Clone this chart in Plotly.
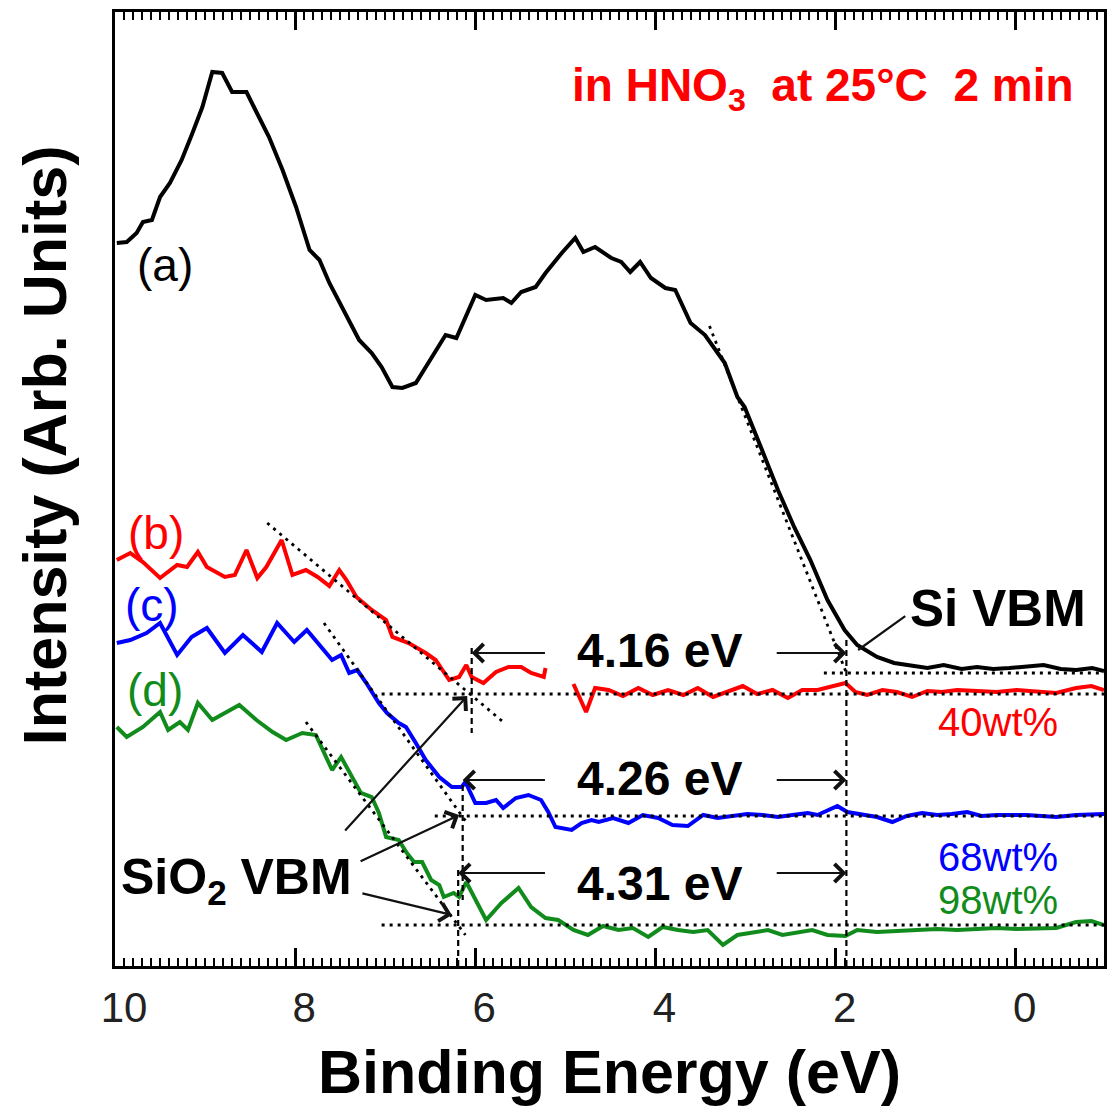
import plotly.graph_objects as go

# ---- data (binding energy in eV, intensity in arbitrary units) ----
a_x = [9.98, 9.87, 9.76, 9.69, 9.59, 9.50, 9.39, 9.26, 9.14, 9.03, 8.92, 8.81, 8.70, 8.54, 8.43,
       8.29, 8.14, 7.99, 7.84, 7.73, 7.62, 7.48, 7.29, 7.15, 7.04, 6.92, 6.81, 6.66, 6.52, 6.33,
       6.21, 6.11, 6.00, 5.88, 5.69, 5.60, 5.49, 5.33, 5.22, 5.04, 4.89, 4.80, 4.67, 4.49, 4.38,
       4.28, 4.17, 4.05, 3.89, 3.78, 3.61, 3.45, 3.23, 3.09, 3.01, 2.83, 2.64, 2.46, 2.28, 2.09,
       1.90, 1.76, 1.54, 1.35, 1.15, 0.98, 0.80, 0.60, 0.43, 0.25, 0.07, -0.12, -0.31, -0.50,
       -0.67, -0.85, -0.98]
a_y = [72.3, 72.4, 73.3, 74.4, 74.6, 76.9, 78.3, 80.6, 83.3, 85.9, 89.4, 89.3, 87.4, 87.4, 85.4,
       82.9, 79.6, 75.9, 71.6, 70.6, 68.3, 65.9, 62.6, 61.3, 59.9, 57.9, 57.8, 58.3, 60.3, 63.1,
       62.8, 64.9, 67.1, 66.6, 66.8, 66.3, 67.4, 67.9, 69.3, 71.3, 72.8, 71.4, 71.9, 70.8, 70.4,
       69.4, 70.4, 68.8, 67.8, 67.6, 64.3, 63.1, 60.3, 56.9, 55.9, 51.9, 47.6, 43.9, 40.6, 36.6,
       33.6, 32.1, 30.9, 30.3, 30.0, 29.8, 30.1, 29.7, 29.9, 29.7, 29.8, 30.0, 30.1, 29.7,
       29.6, 29.8, 29.5]

b_x = [9.98, 9.83, 9.69, 9.50, 9.31, 9.20, 9.08, 8.98, 8.78, 8.67, 8.54, 8.42, 8.32, 8.15, 8.03,
       7.88, 7.75, 7.62, 7.51, 7.43, 7.32, 7.15, 6.99, 6.92, 6.74, 6.55, 6.44, 6.29, 6.18, 6.10,
       6.04, 5.91, 5.77, 5.63, 5.49, 5.38, 5.24, 5.22, None,
       4.91, 4.77, 4.67, 4.52, 4.36, 4.19, 4.03, 3.86, 3.69, 3.53, 3.36, 3.20, 3.03, 2.87, 2.70,
       2.53, 2.37, 2.20, 2.04, 1.89, 1.78, 1.65, 1.48, 1.32, 1.15, 0.98, 0.82, 0.65, 0.43, 0.21,
       -0.01, -0.23, -0.45, -0.67, -0.84, -0.98]
b_y = [40.6, 41.3, 40.4, 38.8, 40.1, 39.9, 41.4, 39.9, 38.9, 39.1, 41.6, 38.8, 39.9, 42.6, 39.1,
       39.6, 38.9, 38.0, 39.6, 38.6, 36.9, 35.6, 34.6, 32.9, 32.3, 31.3, 30.6, 28.6, 28.9, 30.1,
       28.9, 28.3, 29.4, 29.9, 29.9, 29.3, 28.9, 29.8, None,
       28.2, 25.4, 27.8, 27.6, 27.0, 27.8, 27.1, 27.6, 27.1, 27.8, 26.9, 27.4, 28.0, 27.2, 27.6,
       26.8, 27.6, 27.6, 28.0, 28.3, 27.4, 27.1, 27.6, 27.4, 26.9, 27.5, 27.4, 27.6, 27.5, 27.4,
       27.6, 27.5, 27.3, 27.8, 28.0, 27.6]

c_x = [9.98, 9.83, 9.65, 9.50, 9.31, 9.15, 8.98, 8.78, 8.58, 8.37, 8.20, 8.01, 7.87, 7.73, 7.59,
       7.49, 7.40, 7.31, 7.21, 7.07, 6.98, 6.85, 6.77, 6.66, 6.55, 6.40, 6.26, 6.15, 6.11, 6.00,
       5.88, 5.77, 5.69, 5.55, 5.41, 5.27, 5.19, 5.11, 4.93, 4.82, 4.71, 4.63, 4.47, 4.30, 4.14,
       3.97, 3.81, 3.64, 3.47, 3.31, 3.14, 2.98, 2.81, 2.64, 2.48, 2.31, 2.20, 1.98, 1.87, 1.70,
       1.54, 1.37, 1.21, 1.04, 0.87, 0.71, 0.54, 0.38, 0.21, -0.12, -0.45, -0.67, -0.98]
c_y = [32.3, 32.6, 33.3, 34.3, 31.1, 32.9, 33.8, 31.3, 33.1, 31.4, 34.3, 32.4, 33.6, 32.1, 30.6,
       31.1, 29.3, 29.6, 28.3, 26.3, 25.3, 24.3, 23.9, 22.3, 20.6, 18.9, 17.9, 17.9, 18.4, 16.3,
       16.3, 16.6, 15.8, 16.8, 17.1, 16.6, 15.4, 13.9, 13.6, 14.3, 14.6, 14.4, 14.8, 14.3, 15.1,
       14.8, 14.1, 14.0, 15.1, 14.8, 15.0, 15.2, 15.1, 14.9, 15.1, 15.3, 15.1, 16.0, 15.4, 15.1,
       14.9, 14.4, 15.0, 15.3, 15.1, 15.2, 15.4, 15.0, 15.1, 15.1, 14.9, 15.1, 15.2]

d_x = [9.98, 9.87, 9.69, 9.50, 9.41, 9.28, 9.19, 9.08, 8.92, 8.62, 8.43, 8.25, 8.10, 7.92, 7.77,
       7.65, 7.59, 7.49, 7.37, 7.27, 7.15, 7.07, 6.99, 6.85, 6.76, 6.68, 6.59, 6.49, 6.40, 6.35,
       6.24, 6.18, 6.10, 5.98, 5.88, 5.71, 5.52, 5.38, 5.22, 5.08, 4.91, 4.75, 4.58, 4.41, 4.25,
       4.08, 3.92, 3.75, 3.58, 3.42, 3.25, 3.09, 2.92, 2.75, 2.59, 2.42, 2.26, 2.09, 1.89, 1.76,
       1.54, 1.32, 1.10, 0.87, 0.65, 0.43, 0.21, -0.01, -0.23, -0.45, -0.67, -0.84, -0.98]
d_y = [23.9, 22.9, 23.9, 25.4, 23.6, 24.4, 23.6, 26.3, 24.6, 26.1, 24.6, 23.4, 22.6, 23.3, 23.1,
       20.9, 19.6, 20.9, 18.9, 17.3, 16.9, 15.3, 12.9, 12.6, 11.3, 10.4, 10.4, 8.6, 8.1, 6.9,
       7.3, 6.9, 8.4, 6.3, 4.6, 6.3, 7.8, 5.9, 4.8, 4.6, 3.6, 3.1, 4.0, 3.6, 3.8,
       2.9, 3.9, 3.6, 3.4, 3.6, 2.1, 3.1, 3.4, 3.6, 3.1, 3.4, 3.6, 3.1, 3.0, 3.6,
       3.4, 3.5, 3.6, 3.7, 3.6, 3.7, 3.8, 3.7, 3.8, 3.8, 4.4, 4.5, 4.1]

# VBM values (eV) and gaps
si_vbm = 1.88
sio2_vbm = [6.04, 6.14, 6.19]
gap_labels = ["4.16 eV", "4.26 eV", "4.31 eV"]
gap_label_y = [31.6, 18.8, 8.3]
gap_arrow_y = [31.3, 18.6, 9.3]

# linear-extrapolation guide lines (dotted): (x0, y0, x1, y1)
tangent_lines = [
    (3.40, 64.0, 1.88, 29.3),
    (2.13, 29.3, -0.98, 29.3),
    (8.31, 44.3, 5.69, 24.4),
    (7.04, 27.2, -0.98, 27.2),
    (7.68, 34.3, 6.10, 14.4),
    (6.45, 15.0, -0.98, 15.0),
    (7.88, 24.4, 6.11, 3.1),
    (7.04, 4.1, -0.98, 4.1),
]
# dashed verticals: (x, y0, y1)
vbm_lines = [(6.04, 31.8, 23.3), (6.14, 18.1, 6.6), (6.19, 9.6, 0.0), (1.88, 32.6, 0.0)]

FONT = "Liberation Sans, Arial, sans-serif"
RED = "#ff0000"
BLUE = "#0000ff"
GREEN = "#118c1c"

fig = go.Figure()
for xs, ys, col in [(a_x, a_y, "black"), (b_x, b_y, RED), (c_x, c_y, BLUE), (d_x, d_y, GREEN)]:
    fig.add_trace(go.Scatter(x=xs, y=ys, mode="lines", line=dict(color=col, width=4),
                             showlegend=False, hoverinfo="skip", connectgaps=False))

for x0, y0, x1, y1 in tangent_lines:
    fig.add_trace(go.Scatter(x=[x0, x1], y=[y0, y1], mode="lines",
                             line=dict(color="black", width=2.8, dash="3px,5px"),
                             showlegend=False, hoverinfo="skip"))
for xv, y0, y1 in vbm_lines:
    fig.add_trace(go.Scatter(x=[xv, xv], y=[y0, y1], mode="lines",
                             line=dict(color="black", width=2.2, dash="6px,4px"),
                             showlegend=False, hoverinfo="skip"))

ann = []
arrow_common = dict(xref="x", yref="y", axref="x", ayref="y", text="", showarrow=True,
                    arrowhead=4, arrowsize=1.6, arrowwidth=2.2, arrowcolor="#111", standoff=0)
for vbm, ly, ay, lab in zip(sio2_vbm, gap_label_y, gap_arrow_y, gap_labels):
    ann.append(dict(x=vbm, y=ay, ax=5.21, ay=ay, **arrow_common))
    ann.append(dict(x=si_vbm, y=ay, ax=2.67, ay=ay, **arrow_common))
    ann.append(dict(x=3.96, y=ly, xref="x", yref="y", text=lab, showarrow=False,
                    font=dict(family=FONT, size=48, color="black", weight="bold")))

# SiO2 VBM pointers
for tx, ty, hx, hy in [(7.46, 13.4, 6.09, 27.0), (7.29, 10.4, 6.18, 15.1), (7.27, 7.3, 6.26, 5.1)]:
    ann.append(dict(x=hx, y=hy, ax=tx, ay=ty, **arrow_common))
# Si VBM pointer (no head)
ann.append(dict(x=1.75, y=31.6, ax=1.21, ay=35.1, xref="x", yref="y", axref="x", ayref="y",
                text="", showarrow=True, arrowhead=0, arrowwidth=2.2, arrowcolor="#111"))

def txt(x, y, s, size, color="black", bold=True):
    ann.append(dict(x=x, y=y, xref="x", yref="y", text=s, showarrow=False,
                    font=dict(family=FONT, size=size, color=color,
                              weight="bold" if bold else "normal")))

txt(0.20, 35.8, "Si VBM", 51)
txt(8.65, 8.6, "SiO<sub>2</sub> VBM", 50)
txt(2.14, 87.8, "in HNO<sub>3</sub>&nbsp; at 25°C&nbsp; 2 min", 46, RED)
txt(9.45, 70.1, "(a)", 46, "black", False)
txt(9.54, 43.3, "(b)", 46, RED, False)
txt(9.59, 36.1, "(c)", 46, BLUE, False)
txt(9.56, 27.6, "(d)", 46, GREEN, False)
txt(0.20, 24.4, "40wt%", 40, RED, False)
txt(0.20, 10.9, "68wt%", 40, BLUE, False)
txt(0.20, 6.6, "98wt%", 40, GREEN, False)

ann.append(dict(x=-0.0706, y=0.546, xref="paper", yref="paper", text="Intensity (Arb. Units)",
                textangle=-90, showarrow=False, xanchor="center", yanchor="middle",
                font=dict(family=FONT, size=61, color="black", weight="bold")))

fig.update_layout(
    width=1108, height=1108,
    margin=dict(l=115, r=1, t=12, b=142),
    paper_bgcolor="white", plot_bgcolor="white",
    annotations=ann,
    xaxis=dict(range=[10, -0.98], showline=True, linewidth=3, linecolor="black", mirror="ticks",
               ticks="inside", ticklen=18, tickwidth=2.5, tickcolor="black",
               tick0=0, dtick=2, showgrid=False, zeroline=False,
               tickfont=dict(family=FONT, size=42, color="#222"), ticklabelstandoff=3,
               ticklabelshift=-9,
               minor=dict(ticks="inside", dtick=0.1, tick0=0, ticklen=8, tickwidth=1.5,
                          tickcolor="black", showgrid=False),
               title=dict(text="Binding Energy (eV)", standoff=20,
                          font=dict(family=FONT, size=61, color="black", weight="bold"))),
    yaxis=dict(range=[0, 95.4], showline=True, linewidth=3, linecolor="black", mirror=True,
               ticks="", showticklabels=False, showgrid=False, zeroline=False),
)

fig.write_html("out.html")
